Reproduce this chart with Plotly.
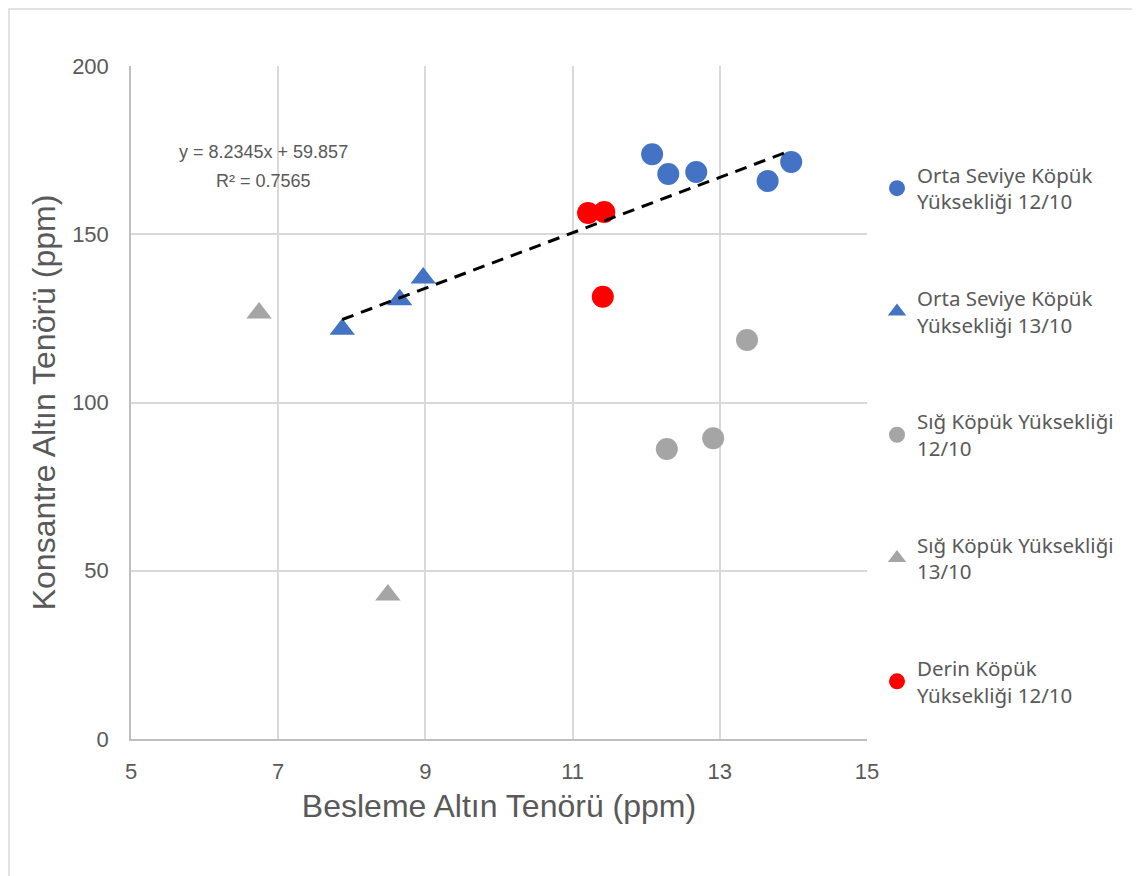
import plotly.graph_objects as go

# Data
orta_1210_x = [12.08, 12.30, 12.68, 13.65, 13.97]
orta_1210_y = [173.8, 167.9, 168.5, 165.8, 171.5]

orta_1310_x = [7.87, 8.65, 8.97]
orta_1310_y = [121.8, 130.5, 137.0]

sig_1210_x = [12.28, 12.91, 13.37]
sig_1210_y = [86.2, 89.4, 118.6]

sig_1310_x = [6.74, 8.49]
sig_1310_y = [126.6, 42.8]

derin_1210_x = [11.21, 11.43, 11.41]
derin_1210_y = [156.3, 156.6, 131.4]

trend_slope = 8.2345
trend_intercept = 59.857
trend_r2 = 0.7565

series_names = [
    "Orta Seviye Köpük<br>Yüksekliği 12/10",
    "Orta Seviye Köpük<br>Yüksekliği 13/10",
    "Sığ Köpük Yüksekliği<br>12/10",
    "Sığ Köpük Yüksekliği<br>13/10",
    "Derin Köpük<br>Yüksekliği 12/10",
]

x_ticks = [5, 7, 9, 11, 13, 15]
y_ticks = [0, 50, 100, 150, 200]

BLUE = "#4472C4"
GRAY = "#A5A5A5"
RED = "#FF0000"

fig = go.Figure()

series = [
    (orta_1210_x, orta_1210_y, BLUE, "circle", 22),
    (orta_1310_x, orta_1310_y, BLUE, "triangle-up", 22),
    (sig_1210_x, sig_1210_y, GRAY, "circle", 22),
    (sig_1310_x, sig_1310_y, GRAY, "triangle-up", 22),
    (derin_1210_x, derin_1210_y, RED, "circle", 22),
]

for i, (xs, ys, col, sym, sz) in enumerate(series):
    fig.add_trace(go.Scatter(
        x=xs, y=ys, mode="markers", name=series_names[i],
        legendgroup=f"g{i}",
        marker=dict(color=col, symbol=sym, size=sz, line=dict(width=0)),
    ))

# Trend line over the "Orta Seviye" points
trend_xs = orta_1310_x + orta_1210_x
tx = [min(trend_xs), max(trend_xs)]
ty = [trend_slope * v + trend_intercept for v in tx]
fig.add_trace(go.Scatter(
    x=tx, y=ty, mode="lines", showlegend=False,
    line=dict(color="black", width=3, dash="12px,8px"),
))

# Target plot area in screenshot pixels: left 130, right 866, top 66, bottom 739
W, H = 1140, 876
L, R, T, B = 130, 866, 66, 739
OX, OY = 7, 8  # page offset of the figure in the browser

def px_x(p):
    return (p - L) / (R - L)

def px_y(p):
    return (B - p) / (B - T)

ann_font = dict(family="Liberation Sans, Arial", size=18, color="#595959")
fig.add_annotation(
    x=px_x(262), y=px_y(152), xref="paper", yref="paper",
    text=f"y = {trend_slope}x + {trend_intercept}",
    showarrow=False, font=ann_font, xanchor="center", yanchor="middle",
)
fig.add_annotation(
    x=px_x(262), y=px_y(181), xref="paper", yref="paper",
    text=f"R² = {trend_r2}",
    showarrow=False, font=ann_font, xanchor="center", yanchor="middle",
)

# Outer chart border (at the figure edges)
fig.add_shape(
    type="rect", xref="paper", yref="paper",
    x0=px_x(OX + 1), x1=px_x(1136), y0=px_y(H + OY - 1), y1=px_y(OY + 1),
    line=dict(color="#D9D9D9", width=1.5), fillcolor="rgba(0,0,0,0)", layer="below",
)

axis_font = dict(family="Liberation Sans, Arial", size=22, color="#595959")
title_font = dict(family="Liberation Sans, Arial", size=32, color="#595959")

fig.update_layout(
    width=W, height=H,
    margin=dict(l=L - OX, r=W - R + OX, t=T - OY, b=H - B + OY, autoexpand=False),
    paper_bgcolor="white", plot_bgcolor="white",
    xaxis=dict(
        range=[5, 15], tickvals=x_ticks, ticks="", showgrid=True,
        gridcolor="#D9D9D9", gridwidth=1.5, zeroline=False,
        showline=True, linecolor="#BFBFBF", linewidth=1.5,
        tickfont=axis_font, ticklabelstandoff=12,
        title=dict(text="Besleme Altın Tenörü (ppm)", font=title_font, standoff=11),
    ),
    yaxis=dict(
        range=[0, 200], tickvals=y_ticks, ticks="", showgrid=True,
        gridcolor="#D9D9D9", gridwidth=1.5, zeroline=False,
        showline=True, linecolor="#BFBFBF", linewidth=1.5,
        tickfont=axis_font, ticklabelstandoff=16,
        title=dict(text="Konsantre Altın Tenörü (ppm)", font=title_font, standoff=7),
    ),
    legend=dict(
        x=px_x(876), y=px_y(155), xanchor="left", yanchor="top",
        xref="paper", yref="paper",
        font=dict(family="Noto Sans, Open Sans", size=20.5, color="#595959"),
        traceorder="grouped", tracegroupgap=67,
        itemsizing="trace", itemwidth=30,
        bgcolor="rgba(0,0,0,0)",
    ),
    showlegend=True,
)

fig.write_html("out.html")
